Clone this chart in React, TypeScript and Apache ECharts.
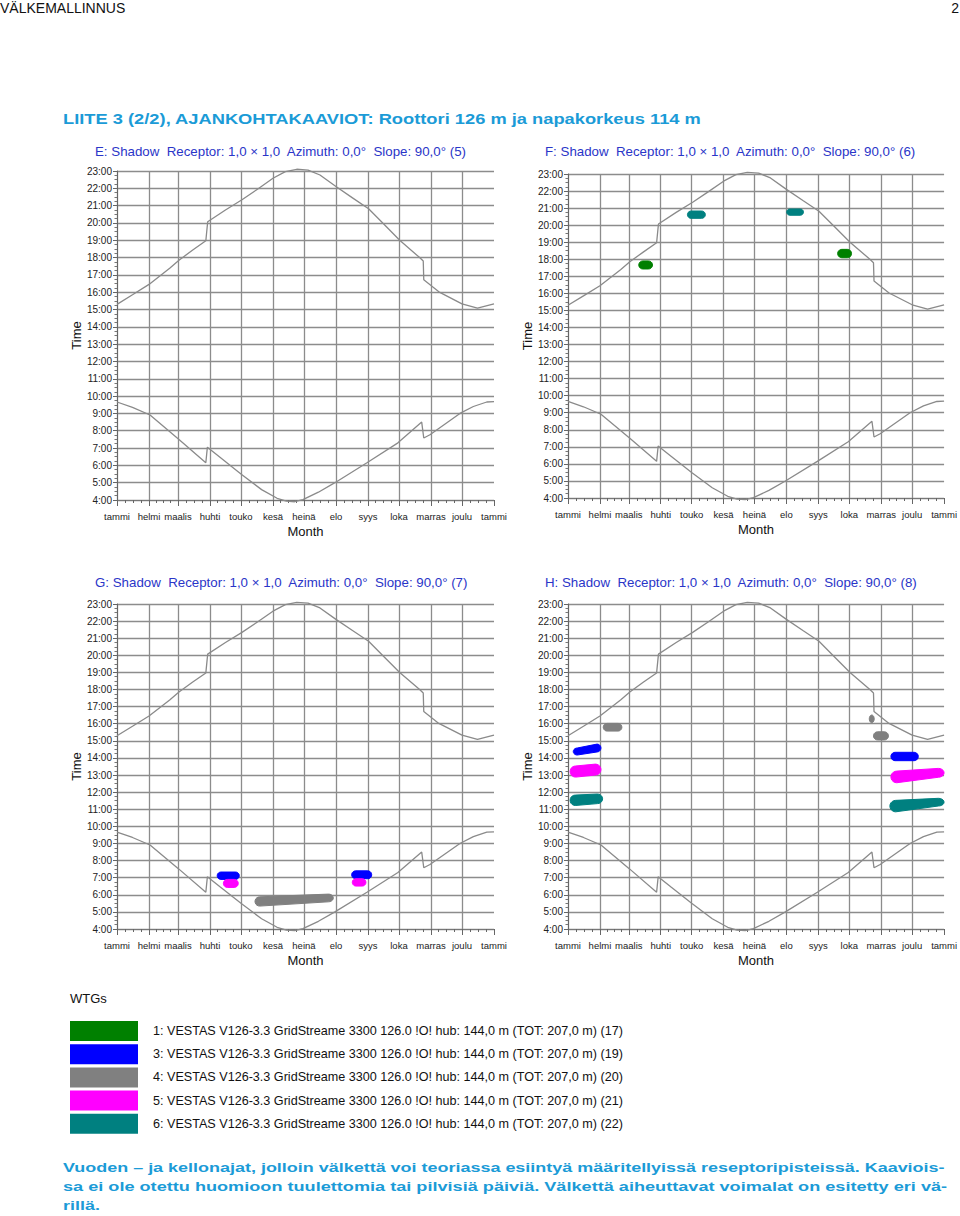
import React, { useEffect, useRef } from "react";
import * as echarts from "echarts";

const FONT = "'Liberation Sans', Arial, sans-serif";
const TITLE_BLUE = "#2a35c8";
const ACCENT = "#1b9bd7";
const GRID_GRAY = "#8c8c8c";
const CURVE_GRAY = "#8a8a8a";

// x axis: day of year (0 = 1 Jan, 365 = 1 Jan next year)
const monthStarts = [0, 31, 59, 90, 120, 151, 181, 212, 243, 273, 304, 334, 365];
const monthLabels = ["tammi", "helmi", "maalis", "huhti", "touko", "kesä", "heinä", "elo", "syys", "loka", "marras", "joulu", "tammi"];

// y axis: clock time in hours
const timeMin = 4;
const timeMax = 23;

// sunset (upper) and sunrise (lower) limits, [day, hour]
const sunsetCurve = [
  [0, 15.3], [15, 15.85], [31, 16.45], [51, 17.39], [60, 17.85], [73, 18.42], [86, 18.97],
  [87.8, 20.07], [105, 20.75], [121, 21.34], [136, 21.95], [151, 22.58], [163, 22.96],
  [174, 23.1], [185, 23.05], [196.5, 22.77], [212, 22.1], [228, 21.45], [243.6, 20.82],
  [258, 19.95], [273.7, 19.0], [293, 18.0], [296.5, 17.8], [297, 16.72], [311.6, 16.02],
  [334, 15.33], [349, 15.08], [365, 15.33],
];
const sunriseCurve = [
  [0, 9.66], [15, 9.35], [32, 8.91], [60, 7.5], [86, 6.15], [87.5, 7.05], [100, 6.45],
  [120, 5.5], [140, 4.6], [155, 4.1], [164, 3.93], [172, 3.9], [180, 4.02], [195, 4.45],
  [211, 5.0], [242, 6.15], [272, 7.3], [295, 8.5], [297, 7.58], [303, 7.77], [332, 9.0],
  [345, 9.4], [358, 9.66], [365, 9.68],
];

const turbines = [
  "1: VESTAS V126-3.3 GridStreame 3300 126.0 !O! hub: 144,0 m (TOT: 207,0 m) (17)",
  "3: VESTAS V126-3.3 GridStreame 3300 126.0 !O! hub: 144,0 m (TOT: 207,0 m) (19)",
  "4: VESTAS V126-3.3 GridStreame 3300 126.0 !O! hub: 144,0 m (TOT: 207,0 m) (20)",
  "5: VESTAS V126-3.3 GridStreame 3300 126.0 !O! hub: 144,0 m (TOT: 207,0 m) (21)",
  "6: VESTAS V126-3.3 GridStreame 3300 126.0 !O! hub: 144,0 m (TOT: 207,0 m) (22)",
];
const turbineColors = ["#008000", "#0000ff", "#808080", "#ff00ff", "#008080"];

// flicker periods: [turbine, dayStart, dayEnd, fromStart, toStart, fromEnd, toEnd]
const flickerE: number[][] = [];
const flickerF = [
  [0, 68.7, 82, 17.43, 17.9, 17.43, 17.9],
  [4, 115.9, 133.3, 20.4, 20.83, 20.4, 20.83],
  [4, 212.3, 228.5, 20.58, 20.95, 20.58, 20.95],
  [0, 261.7, 275.2, 18.09, 18.58, 18.09, 18.58],
];
const flickerG = [
  [1, 97, 118.4, 6.9, 7.33, 6.9, 7.33],
  [3, 103, 117.4, 6.43, 6.9, 6.43, 6.9],
  [2, 133.6, 209.4, 5.34, 5.88, 5.59, 6.04],
  [1, 227.2, 246.6, 6.94, 7.4, 6.94, 7.4],
  [3, 227.8, 241, 6.51, 6.94, 6.51, 6.94],
];
const flickerH = [
  [1, 5.1, 32, 14.17, 14.58, 14.35, 14.81],
  [3, 2, 32, 12.88, 13.53, 13.0, 13.64],
  [4, 2, 33.6, 11.22, 11.83, 11.33, 11.89],
  [2, 34.2, 52.3, 15.57, 16.02, 15.57, 16.02],
  [2, 292.4, 297.2, 16.06, 16.51, 16.06, 16.51],
  [2, 296.5, 311, 15.05, 15.53, 15.05, 15.53],
  [1, 313.4, 340, 13.84, 14.33, 13.84, 14.33],
  [3, 313.4, 365, 12.55, 13.23, 12.87, 13.39],
  [4, 312.4, 365, 10.85, 11.52, 11.19, 11.64],
];

const panelTitles = [
  "E: Shadow  Receptor: 1,0 × 1,0  Azimuth: 0,0°  Slope: 90,0° (5)",
  "F: Shadow  Receptor: 1,0 × 1,0  Azimuth: 0,0°  Slope: 90,0° (6)",
  "G: Shadow  Receptor: 1,0 × 1,0  Azimuth: 0,0°  Slope: 90,0° (7)",
  "H: Shadow  Receptor: 1,0 × 1,0  Azimuth: 0,0°  Slope: 90,0° (8)",
];
const panelFlicker = [flickerE, flickerF, flickerG, flickerH];

const headerLeft = "VÄLKEMALLINNUS";
const headerRight = "2";
const pageTitle = "LIITE 3 (2/2), AJANKOHTAKAAVIOT: Roottori 126 m ja napakorkeus 114 m";
const legendTitle = "WTGs";
const footerLines = [
  "Vuoden – ja kellonajat, jolloin välkettä voi teoriassa esiintyä määritellyissä reseptoripisteissä. Kaaviois-",
  "sa ei ole otettu huomioon tuulettomia tai pilvisiä päiviä. Välkettä aiheuttavat voimalat on esitetty eri vä-",
  "rillä.",
];

// layout
const grids = [
  { left: 117, top: 171, width: 377, height: 329 },
  { left: 568, top: 174, width: 377, height: 324 },
  { left: 117, top: 604, width: 377, height: 325 },
  { left: 568, top: 604, width: 377, height: 325 },
];
const titlePos = [
  [95, 145],
  [545, 145],
  [95, 576],
  [545, 576],
];

function minorDayTicks() {
  const out: number[] = [];
  for (let m = 0; m < 12; m++) {
    const a = monthStarts[m];
    const len = monthStarts[m + 1] - a;
    for (let k = 1; k < 4; k++) out.push(a + (len * k) / 4);
  }
  return out;
}

function measure(text: string, font: string) {
  const ctx = document.createElement("canvas").getContext("2d")!;
  ctx.font = font;
  return ctx.measureText(text).width;
}

function pillPoints(tl: number[], bl: number[], tr: number[], br: number[]) {
  const h0 = bl[1] - tl[1];
  const h1 = br[1] - tr[1];
  const w = tr[0] - tl[0];
  const rx = Math.max(1, Math.min(Math.max(h0, h1) / 2, w / 2));
  const c0 = [tl[0] + rx, (tl[1] + bl[1]) / 2];
  const c1 = [tr[0] - rx, (tr[1] + br[1]) / 2];
  const pts: number[][] = [];
  const n = 10;
  for (let k = 0; k <= n; k++) {
    const a = -Math.PI / 2 + (Math.PI * k) / n;
    pts.push([c1[0] + rx * Math.cos(a), c1[1] + (h1 / 2) * Math.sin(a)]);
  }
  for (let k = 0; k <= n; k++) {
    const a = Math.PI / 2 + (Math.PI * k) / n;
    pts.push([c0[0] + rx * Math.cos(a), c0[1] + (h0 / 2) * Math.sin(a)]);
  }
  return pts;
}

function buildOption() {
  const minorTicks = minorDayTicks();
  const xAxis: any[] = [];
  const yAxis: any[] = [];
  const series: any[] = [];

  grids.forEach((g, i) => {
    xAxis.push({
      type: "value",
      gridIndex: i,
      position: "bottom",
      min: 0,
      max: 365,
      name: "Month",
      nameLocation: "middle",
      nameGap: 25,
      nameTextStyle: { fontSize: 13, color: "#111", fontFamily: FONT },
      axisLine: { show: true, lineStyle: { color: "#777", width: 1 } },
      axisTick: { show: true, length: 6, customValues: monthStarts, lineStyle: { color: "#666" } },
      axisLabel: {
        customValues: monthStarts,
        formatter: (v: number) => monthLabels[monthStarts.indexOf(Math.round(v))] ?? "",
        fontSize: 9.5,
        color: "#222",
        margin: 11,
        fontFamily: FONT,
      },
      splitLine: { show: true, showMaxLine: false, lineStyle: { color: GRID_GRAY, width: 1.3 } },
    });
    xAxis.push({
      type: "value",
      gridIndex: i,
      position: "bottom",
      min: 0,
      max: 365,
      axisLine: { show: false },
      axisTick: { show: true, length: 3, customValues: minorTicks, lineStyle: { color: "#666" } },
      axisLabel: { show: false },
      splitLine: { show: false },
    });
    yAxis.push({
      type: "value",
      gridIndex: i,
      min: timeMin,
      max: timeMax,
      interval: 1,
      name: "Time",
      nameLocation: "middle",
      nameGap: 33,
      nameTextStyle: { fontSize: 13, color: "#111", fontFamily: FONT },
      axisLine: { show: true, lineStyle: { color: "#666", width: 1 } },
      axisTick: { show: true, length: 4, lineStyle: { color: "#666" } },
      minorTick: { show: true, splitNumber: 4, length: 2.5, lineStyle: { color: "#777" } },
      axisLabel: { formatter: (v: number) => `${v}:00`, fontSize: 10, color: "#222", margin: 5, fontFamily: FONT },
      splitLine: { show: true, lineStyle: { color: GRID_GRAY, width: 1.3 } },
    });

    [sunsetCurve, sunriseCurve].forEach((curve, ci) => {
      series.push({
        type: "line",
        name: ci === 0 ? "auringonlasku" : "auringonnousu",
        xAxisIndex: 2 * i,
        yAxisIndex: i,
        data: curve,
        showSymbol: false,
        clip: false,
        silent: true,
        lineStyle: { color: CURVE_GRAY, width: 1.3 },
        z: 2,
      });
    });

    turbines.forEach((name, t) => {
      const items = panelFlicker[i].filter((b) => b[0] === t).map((b) => b.slice(1));
      if (!items.length) return;
      const color = turbineColors[t];
      series.push({
        type: "custom",
        name,
        xAxisIndex: 2 * i,
        yAxisIndex: i,
        itemStyle: { color },
        encode: { x: [0, 1], y: [2, 3, 4, 5] },
        data: items,
        z: 3,
        renderItem: (_p: any, api: any) => {
          const d0 = api.value(0), d1 = api.value(1);
          const lo0 = api.value(2), hi0 = api.value(3), lo1 = api.value(4), hi1 = api.value(5);
          const tl = api.coord([d0, hi0]);
          const bl = api.coord([d0, lo0]);
          const tr = api.coord([d1, hi1]);
          const br = api.coord([d1, lo1]);
          return {
            type: "polygon",
            shape: { points: pillPoints(tl, bl, tr, br) },
            style: { fill: color, stroke: color, lineWidth: 1, lineJoin: "round" },
          };
        },
      });
    });
  });

  const titleFont = `bold 14px ${FONT}`;
  const footFont = `bold 13px ${FONT}`;
  const titleScale = 639 / measure(pageTitle, titleFont);
  const foot1Scale = 882 / measure(footerLines[0], footFont);
  const foot2Scale = 885 / measure(footerLines[1], footFont);
  const footScales = [foot1Scale, foot2Scale, foot1Scale];
  const footY = [1167, 1186, 1205];

  const graphic: any[] = [
    { type: "text", x: 0, y: 8, style: { text: headerLeft, font: `14px ${FONT}`, fill: "#111", verticalAlign: "middle" } },
    { type: "text", x: 959, y: 8, style: { text: headerRight, font: `14px ${FONT}`, fill: "#111", align: "right", verticalAlign: "middle" } },
    { type: "text", x: 63, y: 119, scaleX: titleScale, style: { text: pageTitle, font: titleFont, fill: ACCENT, verticalAlign: "middle" } },
    { type: "text", x: 70, y: 998, style: { text: legendTitle, font: `13px ${FONT}`, fill: "#111", verticalAlign: "middle" } },
    ...footerLines.map((line, k) => ({
      type: "text",
      x: 63,
      y: footY[k],
      scaleX: footScales[k],
      style: { text: line, font: footFont, fill: ACCENT, verticalAlign: "middle" },
    })),
  ];

  return {
    animation: false,
    backgroundColor: "#fff",
    textStyle: { fontFamily: FONT },
    title: panelTitles.map((text, i) => ({
      text,
      left: titlePos[i][0],
      top: titlePos[i][1],
      padding: 0,
      textStyle: { fontSize: 13.3, fontWeight: "normal", color: TITLE_BLUE, fontFamily: FONT },
    })),
    legend: {
      data: turbines,
      orient: "vertical",
      left: 70,
      top: 1021,
      padding: 0,
      itemWidth: 68,
      itemHeight: 20,
      itemGap: 3.2,
      icon: "rect",
      selectedMode: false,
      itemStyle: { borderWidth: 0 },
      textStyle: { fontSize: 12.6, color: "#111", fontFamily: FONT, padding: [0, 0, 0, 10] },
    },
    grid: grids.map((g) => ({ ...g, containLabel: false })),
    xAxis,
    yAxis,
    series,
    graphic,
  };
}

export default function App() {
  const ref = useRef<HTMLDivElement>(null);
  useEffect(() => {
    const chart = echarts.init(ref.current!, null, { renderer: "svg", width: 960, height: 1216 });
    chart.setOption(buildOption() as any);
    return () => chart.dispose();
  }, []);
  return (
    <div
      ref={ref}
      style={{ position: "absolute", left: 0, top: 0, width: 960, height: 1216, background: "#fff" }}
    />
  );
}
